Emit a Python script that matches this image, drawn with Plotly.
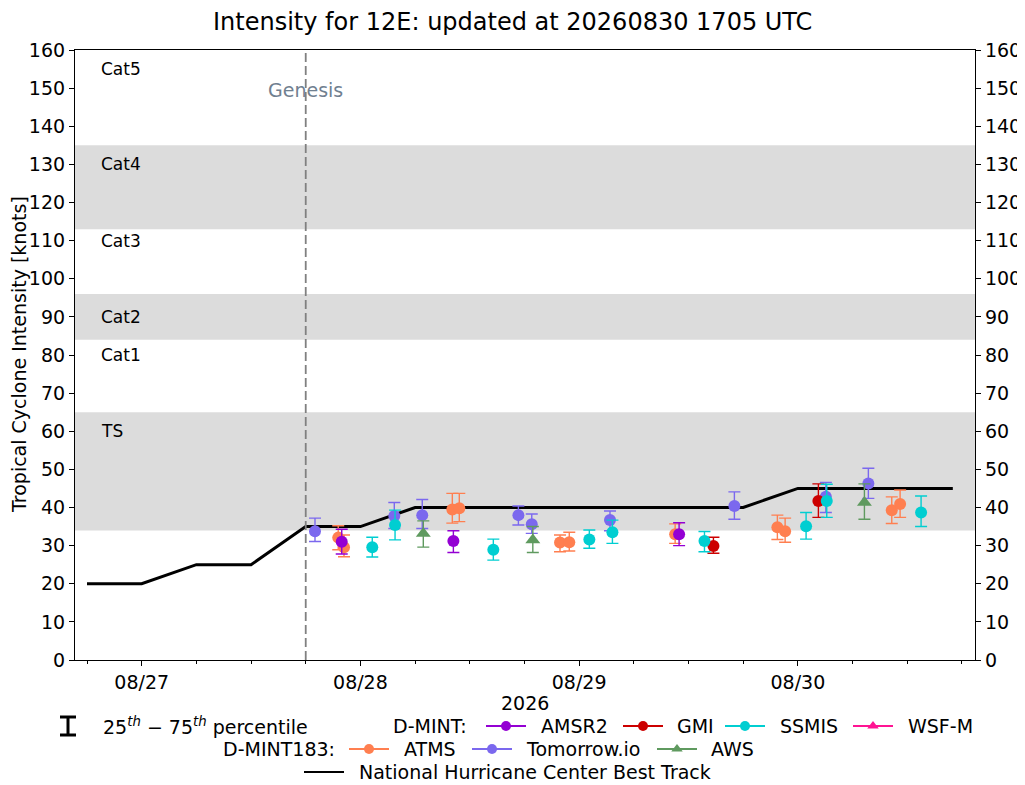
import plotly.graph_objects as go

FONT = "DejaVu Sans"

# ---------------- data ----------------
BT_TIMES = ["2026-08-26 18:00", "2026-08-27 00:00", "2026-08-27 06:00", "2026-08-27 12:00",
            "2026-08-27 18:00", "2026-08-28 00:00", "2026-08-28 06:00", "2026-08-28 12:00",
            "2026-08-28 18:00", "2026-08-29 00:00", "2026-08-29 06:00", "2026-08-29 12:00",
            "2026-08-29 18:00", "2026-08-30 00:00", "2026-08-30 06:00", "2026-08-30 12:00",
            "2026-08-30 17:00"]
BT_VALS = [20, 20, 25, 25, 35, 35, 40, 40, 40, 40, 40, 40, 40, 45, 45, 45, 45]

GENESIS = "2026-08-27 18:00"

TOMORROW_T = ["2026-08-27 19:01", "2026-08-28 03:43", "2026-08-28 06:47", "2026-08-28 17:20",
              "2026-08-28 18:48", "2026-08-29 03:23", "2026-08-29 17:02", "2026-08-30 03:04",
              "2026-08-30 07:44"]
TOMORROW_V = [33.8, 37.8, 38.0, 38.0, 35.6, 36.7, 40.4, 42.8, 46.3]
TOMORROW_LO = [31.1, 34.5, 34.5, 35.4, 33.2, 33.9, 36.9, 38.7, 42.4]
TOMORROW_HI = [37.2, 41.3, 42.1, 40.4, 38.3, 39.1, 44.1, 46.6, 50.3]

ATMS_T = ["2026-08-27 21:34", "2026-08-27 22:12", "2026-08-28 10:05", "2026-08-28 10:51",
          "2026-08-28 21:54", "2026-08-28 22:55", "2026-08-29 10:32", "2026-08-29 21:45",
          "2026-08-29 22:36", "2026-08-30 10:18", "2026-08-30 11:13"]
ATMS_V = [32.1, 29.6, 39.5, 39.8, 30.8, 30.9, 33.0, 34.8, 33.8, 39.3, 40.9]
ATMS_LO = [28.9, 27.1, 35.9, 36.3, 28.4, 28.6, 30.6, 31.6, 30.9, 35.8, 37.4]
ATMS_HI = [35.2, 32.8, 43.7, 43.7, 32.8, 33.5, 35.7, 38.0, 37.2, 42.8, 44.6]

AMSR2_T = ["2026-08-27 21:57", "2026-08-28 10:12", "2026-08-29 10:58"]
AMSR2_V = [31.0, 31.2, 33.0]
AMSR2_LO = [27.8, 28.2, 30.0]
AMSR2_HI = [34.3, 33.9, 36.0]

GMI_T = ["2026-08-29 14:44", "2026-08-30 02:15"]
GMI_V = [29.9, 41.7]
GMI_LO = [28.0, 37.4]
GMI_HI = [32.2, 46.2]

SSMIS_T = ["2026-08-28 01:18", "2026-08-28 03:48", "2026-08-28 14:35", "2026-08-29 01:07",
           "2026-08-29 03:39", "2026-08-29 13:45", "2026-08-30 00:54", "2026-08-30 03:10",
           "2026-08-30 13:31"]
SSMIS_V = [29.6, 35.4, 28.9, 31.6, 33.5, 31.2, 35.1, 41.7, 38.7]
SSMIS_LO = [27.0, 31.5, 26.2, 29.3, 30.6, 28.4, 31.7, 37.4, 35.0]
SSMIS_HI = [32.2, 39.3, 31.7, 34.1, 36.7, 33.7, 38.7, 46.1, 43.0]

AWS_T = ["2026-08-28 06:54", "2026-08-28 18:55", "2026-08-30 07:18"]
AWS_V = [33.2, 31.5, 41.3]
AWS_LO = [29.6, 28.2, 36.9]
AWS_HI = [36.5, 35.0, 46.2]

BANDS = [(34, 65), (84, 96), (113, 135)]
CAT_LABELS = ["Cat5", "Cat4", "Cat3", "Cat2", "Cat1", "TS"]
CAT_Y = [155, 130, 110, 90, 80, 60]

Y_TICKS = list(range(0, 161, 10))

COL = {
    "AMSR2": "#9400d3", "GMI": "#cc0000", "SSMIS": "#00ced1", "WSF-M": "#ff1493",
    "ATMS": "#ff7f50", "Tomorrow.io": "#7b68ee", "AWS": "#5f9a5f",
}

W, H = 1025, 785
OFF = 8  # page offset of the figure inside the browser window
X0, X1, Y0, Y1 = 75, 975, 50, 660  # target plot-area edges on screen


def fx(px):
    return (px - OFF) / W


def fy(py):
    return 1 - (py - OFF) / H


fig = go.Figure()

# best track
fig.add_trace(go.Scatter(x=BT_TIMES, y=BT_VALS, mode="lines",
                         line=dict(color="black", width=3), showlegend=False,
                         xaxis="x", yaxis="y"))


def add_series(t, v, lo, hi, name, symbol="circle"):
    fig.add_trace(go.Scatter(
        x=t, y=v, mode="markers", showlegend=False, name=name,
        marker=dict(color=COL[name], size=12 if symbol == "circle" else 13, symbol=symbol,
                    line=dict(width=0)),
        error_y=dict(type="data", symmetric=False,
                     array=[h - a for h, a in zip(hi, v)],
                     arrayminus=[a - l for a, l in zip(v, lo)],
                     color=COL[name], thickness=1.4, width=6),
        xaxis="x", yaxis="y"))


add_series(TOMORROW_T, TOMORROW_V, TOMORROW_LO, TOMORROW_HI, "Tomorrow.io")
add_series(ATMS_T, ATMS_V, ATMS_LO, ATMS_HI, "ATMS")
add_series(AMSR2_T, AMSR2_V, AMSR2_LO, AMSR2_HI, "AMSR2")
add_series(GMI_T, GMI_V, GMI_LO, GMI_HI, "GMI")
add_series(SSMIS_T, SSMIS_V, SSMIS_LO, SSMIS_HI, "SSMIS")
add_series(AWS_T, AWS_V, AWS_LO, AWS_HI, "AWS", symbol="triangle-up")

# invisible trace for right axis
fig.add_trace(go.Scatter(x=[BT_TIMES[0]], y=[0], mode="markers", marker=dict(opacity=0),
                         showlegend=False, hoverinfo="skip", xaxis="x", yaxis="y2"))

shapes = []
for lo, hi in BANDS:
    shapes.append(dict(type="rect", xref="x domain", x0=0, x1=1, yref="y", y0=lo, y1=hi,
                       fillcolor="#dcdcdc", line=dict(width=0), layer="below"))
shapes.append(dict(type="line", xref="x", x0=GENESIS, x1=GENESIS, yref="y domain", y0=0, y1=1,
                   line=dict(color="#808080", width=1.8, dash="9px,4px")))

annotations = []
for lab, yv in zip(CAT_LABELS, CAT_Y):
    annotations.append(dict(text=lab, xref="x domain", x=(99 - X0) / (X1 - X0), xanchor="left",
                            yref="y", y=yv, yanchor="middle", showarrow=False,
                            font=dict(family=FONT, size=17, color="black")))
annotations.append(dict(text="Genesis", xref="x", x=GENESIS, xanchor="center", yref="y", y=149.5,
                        yanchor="middle", showarrow=False,
                        font=dict(family=FONT, size=19, color="#708090")))
# title
annotations.append(dict(text="Intensity for 12E: updated at 20260830 1705 UTC", xref="paper",
                        x=fx(512.5), xanchor="center", yref="paper", y=fy(22), yanchor="middle",
                        showarrow=False, font=dict(family=FONT, size=24, color="black")))
# axis titles
annotations.append(dict(text="2026", xref="paper", x=fx((X0 + X1) / 2), xanchor="center",
                        yref="paper", y=fy(703), yanchor="middle", showarrow=False,
                        font=dict(family=FONT, size=19, color="black")))
annotations.append(dict(text="Tropical Cyclone Intensity [knots]", xref="paper", x=fx(19),
                        xanchor="center", yref="paper", y=fy(355), yanchor="middle",
                        textangle=-90, showarrow=False,
                        font=dict(family=FONT, size=19, color="black")))

# ---------------- custom legend (screen-pixel coordinates on a hidden axis) ----------------
LEG = dict(xaxis="x3", yaxis="y3", showlegend=False, hoverinfo="skip")


def leg_text(x, y, txt):
    annotations.append(dict(text=txt, xref="x3", x=x - 2, xanchor="left", yref="y3", y=y,
                            yanchor="middle", showarrow=False,
                            font=dict(family=FONT, size=19, color="black")))


def leg_entry(x0, y, color, symbol, label, tx):
    x1 = x0 + 40
    fig.add_trace(go.Scatter(x=[x0, x1], y=[y, y], mode="lines",
                             line=dict(color=color, width=2), **LEG))
    if symbol:
        fig.add_trace(go.Scatter(x=[(x0 + x1) / 2], y=[y], mode="markers",
                                 marker=dict(color=color, size=10, symbol=symbol), **LEG))
    leg_text(tx, y, label)


R1, R2, R3 = 726, 749, 772
# percentile glyph
for (xa, ya, xb, yb) in [(68, 717, 68, 735), (60, 717, 76, 717), (60, 735, 76, 735)]:
    shapes.append(dict(type="line", xref="x3", yref="y3", x0=xa, y0=ya, x1=xb, y1=yb,
                       line=dict(color="black", width=3)))
leg_text(103, R1, "25<sup><i>th</i></sup> − 75<sup><i>th</i></sup> percentile")
leg_text(393, R1, "D-MINT:")
leg_entry(486, R1, COL["AMSR2"], "circle", "AMSR2", 541)
leg_entry(623, R1, COL["GMI"], "circle", "GMI", 677)
leg_entry(725, R1, COL["SSMIS"], "circle", "SSMIS", 780)
leg_entry(853, R1, COL["WSF-M"], "triangle-up", "WSF-M", 908)
leg_text(223, R2, "D-MINT183:")
leg_entry(349, R2, COL["ATMS"], "circle", "ATMS", 404)
leg_entry(472, R2, COL["Tomorrow.io"], "circle", "Tomorrow.io", 526)
leg_entry(657, R2, COL["AWS"], "triangle-up", "AWS", 711)
fig.add_trace(go.Scatter(x=[304, 344], y=[R3, R3], mode="lines",
                         line=dict(color="black", width=2), **LEG))
leg_text(359, R3, "National Hurricane Center Best Track")

tickfont = dict(family=FONT, size=19, color="black")
yax = dict(range=[0, 160], tickvals=Y_TICKS, ticks="outside", ticklen=5, tickwidth=1.2,
           tickcolor="black", showline=True, linecolor="black", linewidth=1.2, showgrid=False,
           zeroline=False, tickfont=tickfont, fixedrange=True, automargin=False,
           domain=[fy(Y1), fy(Y0)])

fig.update_layout(
    width=W, height=H, margin=dict(l=0, r=0, t=0, b=0, autoexpand=False),
    paper_bgcolor="white", plot_bgcolor="white", showlegend=False,
    xaxis=dict(domain=[fx(X0), fx(X1)], anchor="y",
               range=["2026-08-26 16:41", "2026-08-30 19:26"],
               tickformat="%m/%d", dtick=86400000, tick0="2026-08-27",
               ticks="outside", ticklen=5, tickwidth=1.2, tickcolor="black",
               minor=dict(dtick=6 * 3600000, tick0="2026-08-26 18:00", ticks="outside",
                          ticklen=3, tickwidth=1, tickcolor="black", showgrid=False),
               showline=True, mirror=True, linecolor="black", linewidth=1.2,
               showgrid=False, zeroline=False, tickfont=tickfont, fixedrange=True,
               automargin=False),
    yaxis=dict(**yax, anchor="x", side="left"),
    yaxis2=dict(**yax, anchor="x", side="right", overlaying="y"),
    xaxis3=dict(domain=[0, 1], range=[OFF, OFF + W], visible=False, anchor="y3",
                fixedrange=True),
    yaxis3=dict(domain=[0, fy(690)], range=[OFF + H, 690], visible=False, anchor="x3",
                fixedrange=True),
    shapes=shapes, annotations=annotations,
)

fig.write_html("out.html")
